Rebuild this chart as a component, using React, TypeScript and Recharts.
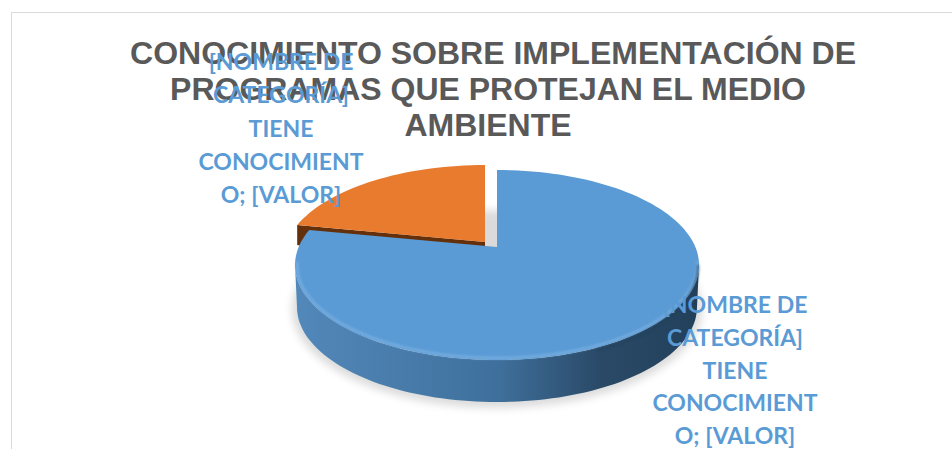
import React from "react";
import { PieChart, Pie } from "recharts";

const categories = ["No tiene conocimiento", "Tiene conocimiento"];
const values = [19, 81];
const titleLines = ["CONOCIMIENTO SOBRE IMPLEMENTACIÓN DE", "PROGRAMAS QUE PROTEJAN EL MEDIO", "AMBIENTE"];
const labelLines = ["[NOMBRE DE", "CATEGORÍA]", "TIENE", "CONOCIMIENT", "O; [VALOR]"];

const data = categories.map((name, i) => ({ name, value: values[i] }));

const W = 952;
const H = 449;
const RX = 202;
const SQUASH = 95 / 202;
const APEX_LIFT = 18;
const DEPTH = 42;
const RAD = Math.PI / 180;
const EXPLODE = { dx: -12, dy: -5 };

function arc(cx: number, cy: number, rx: number, ry: number, from: number, to: number) {
  const pts: string[] = [];
  const n = Math.max(2, Math.ceil(Math.abs(to - from) / 2));
  for (let i = 0; i <= n; i++) {
    const a = (from + ((to - from) * i) / n) * RAD;
    pts.push(`${(cx + rx * Math.cos(a)).toFixed(1)} ${(cy - ry * Math.sin(a)).toFixed(1)}`);
  }
  return pts;
}

function Slice(props: any) {
  const { cx, cy, outerRadius, startAngle, endAngle, fill, name } = props;
  const rx = outerRadius;
  const ry = outerRadius * SQUASH;
  const isBlue = name === categories[1];
  const ox = isBlue ? cx : cx + EXPLODE.dx;
  const oy = isBlue ? cy : cy + EXPLODE.dy;
  const ax = ox;
  const ay = oy - APEX_LIFT;
  const top = arc(ox, oy, rx, ry, startAngle, endAngle);
  const face = `M${ax} ${ay} L${top.join(" L")} Z`;
  if (isBlue) {
    const front = arc(ox, oy, rx, ry, 180, 360);
    const back = arc(ox, oy + DEPTH, rx - 2, ry, 360, 180);
    return (
      <g>
        <path d={`M${front.join(" L")} L${back.join(" L")} Z`} fill="url(#blueSide)" />
        <path d={face} fill={fill} />
        <path
          d={`M${arc(ox, oy, rx - 2, ry - 2, 178, 362).join(" L")}`}
          fill="none"
          stroke="#7fb3e3"
          strokeWidth={2.5}
          filter="url(#soft)"
          opacity={0.75}
        />
        <path
          d={`M${arc(ox, oy + 3, rx - 1, ry, 300, 362).join(" L")}`}
          fill="none"
          stroke="#24405a"
          strokeWidth={3}
          filter="url(#soft)"
          opacity={0.5}
        />
      </g>
    );
  }
  const c = arc(ox, oy, rx, ry, startAngle, startAngle)[0].split(" ").map(Number);
  return (
    <g>
      <ellipse cx={cx} cy={cy + DEPTH + 2} rx={rx + 3} ry={ry + 4} fill="#000" opacity={0.14} filter="url(#shadow)" />
      <path
        d={`M${c[0]} ${c[1]} L${ax} ${ay} L${ax} ${ay + DEPTH} L${c[0]} ${c[1] + 20} Z`}
        fill="#64300c"
      />
      <path d={face} fill={fill} />
    </g>
  );
}

function renderLabel(props: any) {
  const { cx, cy, name } = props;
  const isBlue = name === categories[1];
  const x = isBlue ? cx + 238 : cx - 216;
  const y0 = isBlue ? cy + 48 : cy - 195;
  const gaps = isBlue ? [0, 33, 66, 98, 131] : [0, 33, 67, 100, 133];
  return (
    <text x={x} textAnchor="middle" fontFamily="Lato" fontWeight={700} fontSize={23} fill="#5B9BD5">
      {labelLines.map((line, i) => (
        <tspan key={line} x={x} y={y0 + gaps[i]}>
          {line}
        </tspan>
      ))}
    </text>
  );
}

export default function App() {
  return (
    <div style={{ position: "absolute", left: 0, top: 0, width: W, height: H, overflow: "hidden", background: "#fff" }}>
      <div
        style={{
          position: "absolute",
          left: 11,
          top: 12,
          width: W + 20,
          height: H + 20,
          border: "1.5px solid #d9d9d9",
          boxSizing: "border-box",
        }}
      />
      <div style={{ position: "absolute", left: 0, top: 0 }}>
        <PieChart width={W} height={H} margin={{ top: 0, right: 0, bottom: 0, left: 0 }}>
          <defs>
            <linearGradient id="blueSide" gradientUnits="userSpaceOnUse" x1={295} y1={0} x2={700} y2={0}>
              <stop offset="0" stopColor="#5288ba" />
              <stop offset="0.5" stopColor="#3f709c" />
              <stop offset="0.75" stopColor="#2a4a68" />
              <stop offset="1" stopColor="#22405a" />
            </linearGradient>
            <filter id="soft" x="-10%" y="-10%" width="120%" height="120%">
              <feGaussianBlur stdDeviation="1.2" />
            </filter>
            <filter id="shadow" x="-10%" y="-20%" width="120%" height="140%">
              <feGaussianBlur stdDeviation="4" />
            </filter>
          </defs>
          <Pie
            data={data}
            dataKey="value"
            nameKey="name"
            cx={497}
            cy={265}
            innerRadius={0}
            outerRadius={RX}
            startAngle={90 + (values[0] / 100) * 360}
            endAngle={90 + (values[0] / 100) * 360 - 360}
            stroke="none"
            fill="#5B9BD5"
            shape={(p: any) => <Slice {...p} fill={p.name === categories[1] ? "#5B9BD5" : "#E97B2E"} />}
            label={renderLabel}
            labelLine={false}
            isAnimationActive={false}
          />
          <text textAnchor="middle" fontFamily="Liberation Sans" fontWeight={700} fontSize={32} fill="#595959">
            {titleLines.map((line, i) => (
              <tspan key={line} x={[493, 488, 488][i]} y={[64, 100, 136][i]}>
                {line}
              </tspan>
            ))}
          </text>
        </PieChart>
      </div>
    </div>
  );
}
